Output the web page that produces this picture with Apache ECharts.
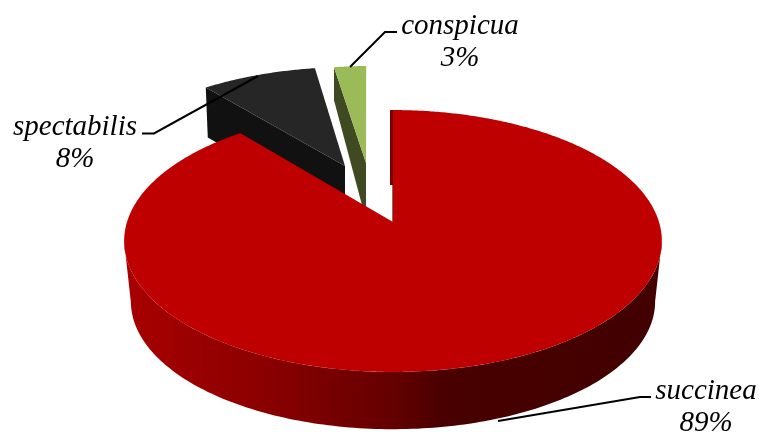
<!DOCTYPE html>
<html><head><meta charset="utf-8">
<style>html,body{margin:0;padding:0;background:#fff}#c{width:759px;height:432px}</style>
<script src="https://cdn.jsdelivr.net/npm/echarts@6/dist/echarts.min.js"></script>
</head><body><div id="c"></div>
<script>
// data
var categories = ['succinea', 'spectabilis', 'conspicua'];
var values = [89, 8.4, 2.6];
// styling and layout
var topColors = ['#BE0000', '#262626', '#9BBB59'];
var sideColors = [null, '#111111', '#3F4A22'];
var explodeOffsets = [[0, 0], [-0.1926, 0.466], [-0.1087, 0.4924]];
var radiusScale = [1, 1, 0.985];
var endTrim = [0, 0, 0.8];
var cutDepth = [null, { outer: 50, apex: 50, shift: 2 }, { outer: 33, apex: 57, shift: 0 }];
var labelAnchors = [[706, 407], [75, 143], [460, 42]];
var leaders = [
  [[651, 397], [640, 397], [498, 421]],
  [[142, 133.5], [154, 133.5], [258, 76]],
  [[397, 32], [385, 32], [350, 67]]
];
var view = { cx: 393, cy: 222, a: 128.2, b: 266, k: 0.145, drop: 61, bottomScale: 0.975 };

function project(X, Y) {
  var d = 1 + view.k * Y;
  return [view.cx + view.b * X / d, view.cy - view.a * Y / d];
}
function lower(p) {
  return [view.cx + (p[0] - view.cx) * view.bottomScale,
          view.cy + view.drop + (p[1] - view.cy) * view.bottomScale];
}
function rim(deg, off, r) {
  var t = deg * Math.PI / 180;
  return project(r * Math.sin(t) + off[0], r * Math.cos(t) + off[1]);
}
var total = values.reduce(function (s, v) { return s + v; }, 0);

function renderItem(params, api) {
  var i = params.dataIndex, start = 0, j;
  for (j = 0; j < i; j++) start += values[j];
  var a0 = start / total * 360, a1 = (start + values[i]) / total * 360 - endTrim[i];
  var off = explodeOffsets[i], r = radiusScale[i];
  var apex = project(off[0], off[1]);
  var face = [apex], deg;
  for (deg = a0; deg < a1; deg += 0.5) face.push(rim(deg, off, r));
  face.push(rim(a1, off, r));
  var kids = [];

  if (i === 0) {
    var up = [], dn = [];
    var tangent = Math.acos(-view.k) * 180 / Math.PI;
    for (deg = tangent; deg <= 360 - tangent; deg += 1) { var q = rim(deg, off, r); up.push(q); dn.unshift(lower(q)); }
    kids.push({ type: 'polygon', z2: 20, shape: { points: up.concat(dn) }, style: {
      fill: { type: 'linear', global: true, x: 125, y: 0, x2: 662, y2: 0, colorStops: [
        { offset: 0, color: '#A80000' }, { offset: 0.25, color: '#8C0000' },
        { offset: 0.5, color: '#640000' }, { offset: 0.6, color: '#480000' },
        { offset: 1, color: '#420000' }] } } });
    var t0 = rim(0, off, r), sliverEnd = [t0[0], t0[1] + 75];
    kids.push({ type: 'polygon', z2: 20, shape: { points: [t0, sliverEnd, [sliverEnd[0] - 3, sliverEnd[1]], [t0[0] - 3, t0[1]]] }, style: { fill: '#7A0000' } });
    kids.push({ type: 'line', z2: 20, shape: { x1: apex[0] - 0.5, y1: sliverEnd[1], x2: apex[0] - 0.5, y2: apex[1] }, style: { stroke: '#8a6a6a', lineWidth: 1 } });
    kids.push({ type: 'polygon', z2: 21, shape: { points: face }, style: { fill: topColors[i] } });
  } else {
    var outer = rim(a0, off, r), c = cutDepth[i];
    kids.push({ type: 'polygon', z2: 10, shape: { points: [outer, apex, [apex[0], apex[1] + c.apex], [outer[0] + c.shift, outer[1] + c.outer]] }, style: { fill: sideColors[i] } });
    kids.push({ type: 'polygon', z2: 11, shape: { points: face }, style: { fill: topColors[i] } });
  }
  kids.push({ type: 'polyline', z2: 30, shape: { points: leaders[i] }, style: { fill: 'none', stroke: '#000', lineWidth: 2 } });
  kids.push({ type: 'text', z2: 31, x: labelAnchors[i][0], y: labelAnchors[i][1], style: {
    text: categories[i] + '\n' + Math.round(values[i]) + '%', align: 'center', verticalAlign: 'middle',
    font: 'italic 29px "Liberation Serif"', lineHeight: 32, fill: '#000' } });
  return { type: 'group', children: kids };
}

var chart = echarts.init(document.getElementById('c'), null, { renderer: 'canvas' });
chart.setOption({
  backgroundColor: '#fff',
  animation: false,
  series: [{ type: 'custom', coordinateSystem: 'none', silent: true,
    data: categories.map(function (n, i) { return { name: n, value: values[i] }; }),
    renderItem: renderItem }]
});
</script></body></html>
